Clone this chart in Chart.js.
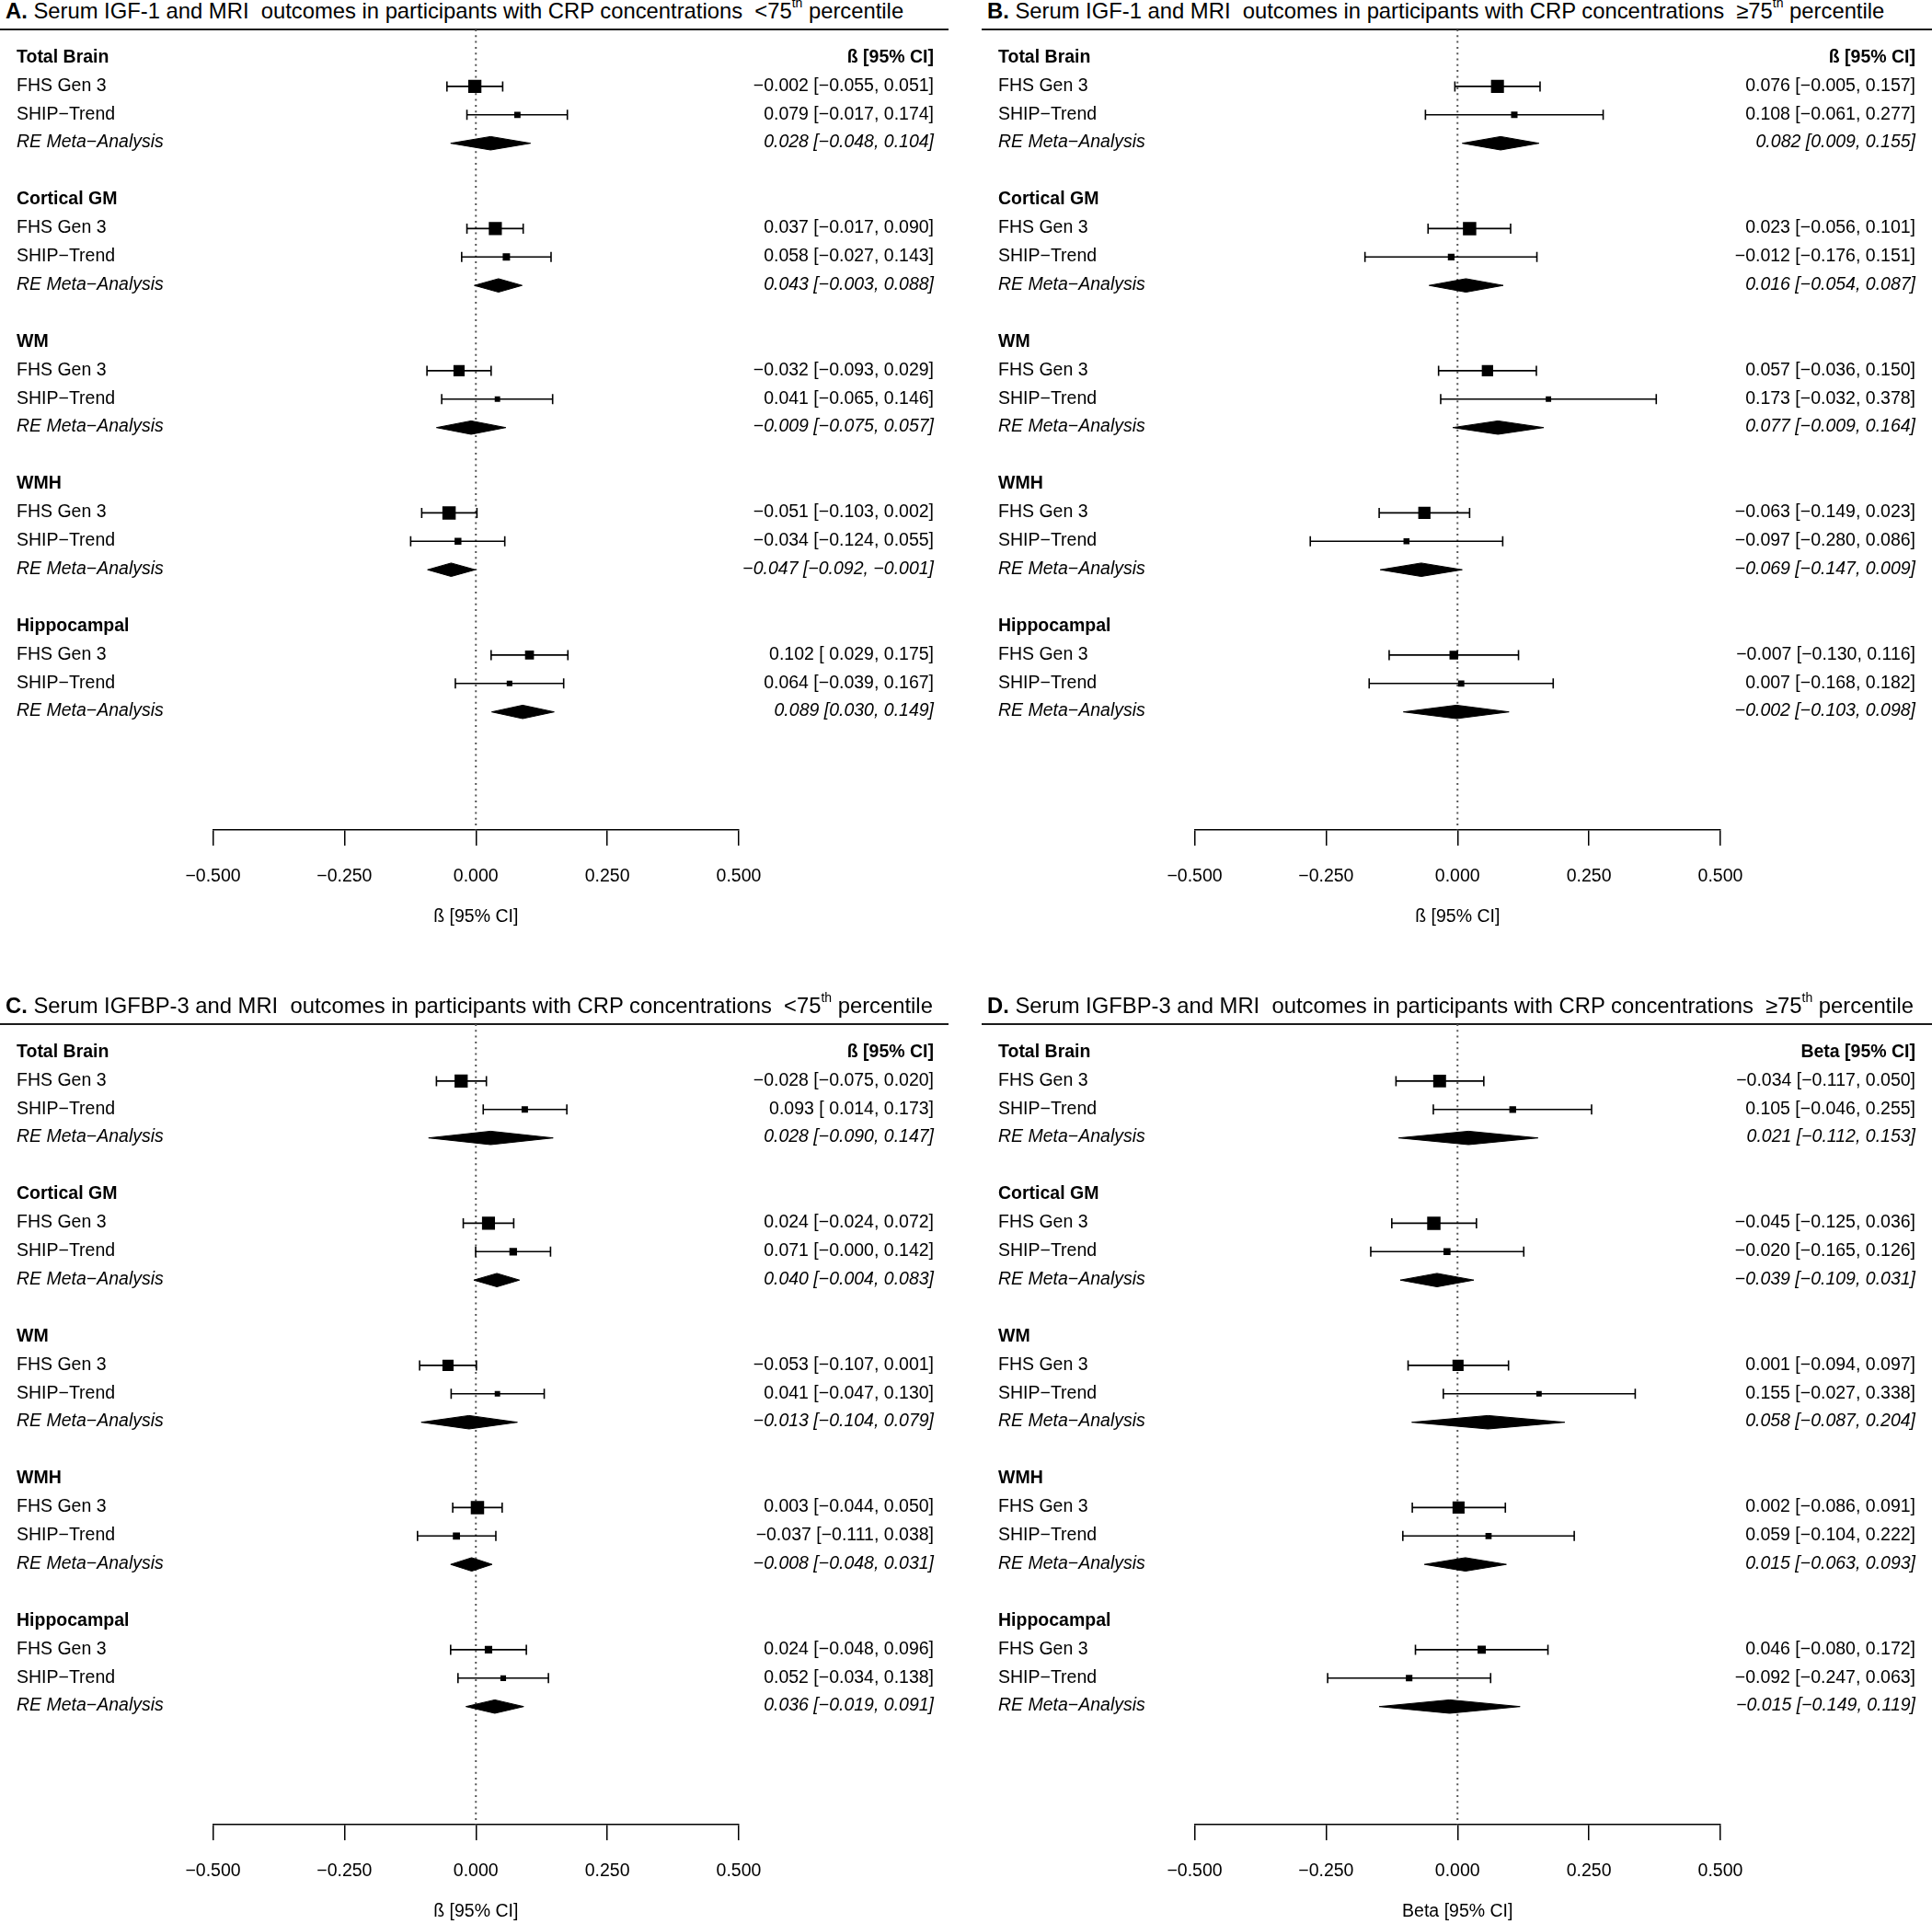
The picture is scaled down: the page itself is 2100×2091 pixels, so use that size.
<!DOCTYPE html>
<html><head><meta charset="utf-8">
<script src="https://cdn.jsdelivr.net/npm/chart.js@4.4.1/dist/chart.umd.min.js"></script>
<style>
html,body{margin:0;padding:0;background:#fff;}
body{width:2100px;height:2091px;position:relative;overflow:hidden;font-family:"Liberation Sans",Arial,sans-serif;}
.title{position:absolute;font-size:23.8px;line-height:26px;white-space:pre;color:#000;}
.title sup{font-size:14px;line-height:0;position:relative;top:-3px;}
.rule{position:absolute;height:2px;background:#1a1a1a;}
canvas{position:absolute;}
</style></head><body>
<script>
// ---------------- data ----------------
const outcomes = ['Total Brain', 'Cortical GM', 'WM', 'WMH', 'Hippocampal'];
const studyNames = ['FHS Gen 3', 'SHIP\u2212Trend'];
const poolLabel = 'RE Meta\u2212Analysis';
const tickValues = [-0.5, -0.25, 0, 0.25, 0.5];
const panelLetters = ['A.', 'B.', 'C.', 'D.'];
const panelMarkers = ['IGF-1', 'IGF-1', 'IGFBP-3', 'IGFBP-3'];
const crpGroups = ['<75', '\u226575', '<75', '\u226575'];
const columnHeaders = ['\u00df [95% CI]', '\u00df [95% CI]', '\u00df [95% CI]', 'Beta [95% CI]'];
const axisTitles = ['\u00df [95% CI]', '\u00df [95% CI]', '\u00df [95% CI]', 'Beta [95% CI]'];

// [estimate, lower, upper] per outcome (Total Brain, Cortical GM, WM, WMH, Hippocampal)
const A_FHS  = [[-0.002,-0.055,0.051],[0.037,-0.017,0.090],[-0.032,-0.093,0.029],[-0.051,-0.103,0.002],[0.102,0.029,0.175]];
const A_SHIP = [[0.079,-0.017,0.174],[0.058,-0.027,0.143],[0.041,-0.065,0.146],[-0.034,-0.124,0.055],[0.064,-0.039,0.167]];
const A_RE   = [[0.028,-0.048,0.104],[0.043,-0.003,0.088],[-0.009,-0.075,0.057],[-0.047,-0.092,-0.001],[0.089,0.030,0.149]];

const B_FHS  = [[0.076,-0.005,0.157],[0.023,-0.056,0.101],[0.057,-0.036,0.150],[-0.063,-0.149,0.023],[-0.007,-0.130,0.116]];
const B_SHIP = [[0.108,-0.061,0.277],[-0.012,-0.176,0.151],[0.173,-0.032,0.378],[-0.097,-0.280,0.086],[0.007,-0.168,0.182]];
const B_RE   = [[0.082,0.009,0.155],[0.016,-0.054,0.087],[0.077,-0.009,0.164],[-0.069,-0.147,0.009],[-0.002,-0.103,0.098]];

const C_FHS  = [[-0.028,-0.075,0.020],[0.024,-0.024,0.072],[-0.053,-0.107,0.001],[0.003,-0.044,0.050],[0.024,-0.048,0.096]];
const C_SHIP = [[0.093,0.014,0.173],[0.071,-0.0004,0.142],[0.041,-0.047,0.130],[-0.037,-0.111,0.038],[0.052,-0.034,0.138]];
const C_RE   = [[0.028,-0.090,0.147],[0.040,-0.004,0.083],[-0.013,-0.104,0.079],[-0.008,-0.048,0.031],[0.036,-0.019,0.091]];

const D_FHS  = [[-0.034,-0.117,0.050],[-0.045,-0.125,0.036],[0.001,-0.094,0.097],[0.002,-0.086,0.091],[0.046,-0.080,0.172]];
const D_SHIP = [[0.105,-0.046,0.255],[-0.020,-0.165,0.126],[0.155,-0.027,0.338],[0.059,-0.104,0.222],[-0.092,-0.247,0.063]];
const D_RE   = [[0.021,-0.112,0.153],[-0.039,-0.109,0.031],[0.058,-0.087,0.204],[0.015,-0.063,0.093],[-0.015,-0.149,0.119]];

const panelData = [[A_FHS, A_SHIP, A_RE], [B_FHS, B_SHIP, B_RE], [C_FHS, C_SHIP, C_RE], [D_FHS, D_SHIP, D_RE]];

// ---------------- layout ----------------
const PANEL_LEFT = [0, 1067, 0, 1067];
const PANEL_TOP = [0, 0, 1081, 1081];
const CANVAS_W = 1033, CANVAS_H = 1081;
const AREA_TOP = 32, AREA_BOTTOM = 902, AREA_LEFT = 231.5, AREA_RIGHT = 803;
const ROW0_PX = 63, ROW_PX = 30.9, ROWS_PER_GROUP = 5;
const Y_MIN = -(ROW0_PX - AREA_TOP) / ROW_PX;
const Y_MAX = Y_MIN + (AREA_BOTTOM - AREA_TOP) / ROW_PX;
const DIAMOND_HALF = 7.3 / ROW_PX;
const FONT = '"Liberation Sans", Arial, sans-serif';
const FS = 19.5;
const LABEL_X = 18, VALUE_X = 1015, TEXT_DY = 4.7;

const fmt = v => v.toFixed(3).replace('-', '\u2212');

Chart.defaults.font.family = FONT;

const textPlugin = {
  id: 'forestText',
  afterDatasetsDraw(chart) {
    const i = chart.options.plugins.forestText.panel;
    const [fhs, ship, re] = panelData[i];
    const studies = [fhs, ship];
    const ys = chart.scales.y;
    const ctx = chart.ctx;
    ctx.save();
    ctx.fillStyle = '#000';
    ctx.textBaseline = 'alphabetic';
    outcomes.forEach((name, g) => {
      const base = g * ROWS_PER_GROUP;
      const yH = ys.getPixelForValue(base) + TEXT_DY;
      ctx.font = 'bold ' + FS + 'px ' + FONT;
      ctx.textAlign = 'left';
      ctx.fillText(name, LABEL_X, yH);
      if (g === 0) {
        ctx.textAlign = 'right';
        ctx.fillText(columnHeaders[i], VALUE_X, yH);
      }
      ctx.font = FS + 'px ' + FONT;
      studies.forEach((s, k) => {
        const r = s[g];
        const y = ys.getPixelForValue(base + 1 + k) + TEXT_DY;
        ctx.textAlign = 'left';
        ctx.fillText(studyNames[k], LABEL_X, y);
        ctx.textAlign = 'right';
        ctx.fillText(fmt(r[0]) + ' [' + (r[1] >= 0 ? ' ' : '') + fmt(r[1]) + ', ' + fmt(r[2]) + ']', VALUE_X, y);
      });
      const rr = re[g];
      const y = ys.getPixelForValue(base + 3) + TEXT_DY;
      ctx.font = 'italic ' + FS + 'px ' + FONT;
      ctx.textAlign = 'left';
      ctx.fillText(poolLabel, LABEL_X, y);
      ctx.textAlign = 'right';
      ctx.fillText(fmt(rr[0]) + ' [' + fmt(rr[1]) + ', ' + fmt(rr[2]) + ']', VALUE_X, y);
    });
    ctx.restore();
  }
};

function buildPanel(i) {
  const [fhs, ship, re] = panelData[i];
  const studies = [fhs, ship];

  // title + rule
  const t = document.createElement('div');
  t.className = 'title';
  t.style.left = (PANEL_LEFT[i] + 6) + 'px';
  t.style.top = (PANEL_TOP[i] - 1) + 'px';
  const b = document.createElement('b'); b.textContent = panelLetters[i];
  t.appendChild(b);
  t.appendChild(document.createTextNode(' Serum ' + panelMarkers[i] + ' and MRI\u00a0 outcomes in participants with CRP concentrations\u00a0 ' + crpGroups[i]));
  const sup = document.createElement('sup'); sup.textContent = 'th';
  t.appendChild(sup);
  t.appendChild(document.createTextNode(' percentile'));
  document.body.appendChild(t);
  const rule = document.createElement('div');
  rule.className = 'rule';
  rule.style.left = PANEL_LEFT[i] + 'px';
  rule.style.top = (PANEL_TOP[i] + 31) + 'px';
  rule.style.width = (i % 2 === 0 ? 1031 : 1033) + 'px';
  document.body.appendChild(rule);

  const cv = document.createElement('canvas');
  cv.width = CANVAS_W; cv.height = CANVAS_H;
  cv.style.left = PANEL_LEFT[i] + 'px';
  cv.style.top = PANEL_TOP[i] + 'px';
  cv.style.width = CANVAS_W + 'px'; cv.style.height = CANVAS_H + 'px';
  document.body.appendChild(cv);

  // weights as in metafor default (1/SE), scaled 0.5..1.5
  const wAll = [];
  studies.forEach(s => s.forEach(r => wAll.push(1 / (r[2] - r[1]))));
  const wmin = Math.min(...wAll), wmax = Math.max(...wAll);
  const psize = r => 0.5 + (1 / (r[2] - r[1]) - wmin) / (wmax - wmin);

  const ciData = [], ptData = [], ptRadius = [];
  outcomes.forEach((o, g) => {
    studies.forEach((s, k) => {
      const row = g * ROWS_PER_GROUP + 1 + k;
      const r = s[g];
      ciData.push({x: r[1], y: row}, {x: r[2], y: row}, {x: null, y: null});
      ptData.push({x: r[0], y: row});
      ptRadius.push((8.6 * psize(r) + 1.6) * Math.SQRT1_2);
    });
  });

  const datasets = [];
  datasets.push({
    type: 'scatter', data: ptData, pointStyle: 'rect', pointRadius: ptRadius,
    backgroundColor: '#000', borderColor: '#000', borderWidth: 0, pointHoverRadius: ptRadius
  });
  datasets.push({
    type: 'line', data: ciData, spanGaps: false, borderColor: '#000', borderWidth: 1.6,
    pointStyle: 'line', pointRotation: 90, pointRadius: 5.5, pointBorderWidth: 1.6,
    pointBorderColor: '#000', pointBackgroundColor: '#000', fill: false, tension: 0
  });
  re.forEach((r, g) => {
    const row = g * ROWS_PER_GROUP + 3;
    datasets.push({
      type: 'line',
      data: [{x: r[1], y: row}, {x: r[0], y: row - DIAMOND_HALF}, {x: r[2], y: row}, {x: r[0], y: row + DIAMOND_HALF}, {x: r[1], y: row}],
      fill: 'shape', backgroundColor: '#000', borderColor: '#000', borderWidth: 1, pointRadius: 0, tension: 0
    });
  });
  datasets.push({
    type: 'line', data: [{x: 0, y: Y_MIN}, {x: 0, y: Y_MAX}], borderColor: '#555',
    borderWidth: 2, borderDash: [2, 4.3], pointRadius: 0, fill: false
  });

  new Chart(cv, {
    type: 'scatter',
    data: {datasets},
    options: {
      responsive: false, animation: false, devicePixelRatio: 1,
      layout: {padding: {top: AREA_TOP, left: AREA_LEFT, right: CANVAS_W - AREA_RIGHT, bottom: 0}},
      plugins: {legend: {display: false}, tooltip: {enabled: false}, forestText: {panel: i}},
      events: [],
      scales: {
        x: {
          type: 'linear', min: -0.5, max: 0.5, position: 'bottom',
          afterBuildTicks: s => { s.ticks = tickValues.map(v => ({value: v})); },
          afterFit: s => { s.height = CANVAS_H - AREA_BOTTOM; },
          ticks: {callback: v => fmt(v), font: {family: FONT, size: FS}, color: '#000', padding: 22, maxRotation: 0, autoSkip: false},
          grid: {drawOnChartArea: false, drawTicks: true, tickLength: 17, color: '#000', lineWidth: 1.5},
          border: {display: true, color: '#000', width: 1.5},
          title: {display: true, text: axisTitles[i], font: {family: FONT, size: FS}, color: '#000', padding: {top: 0, bottom: 73}}
        },
        y: {type: 'linear', reverse: true, min: Y_MIN, max: Y_MAX, display: false}
      }
    },
    plugins: [textPlugin]
  });
}

[0, 1, 2, 3].forEach(buildPanel);
</script>
</body></html>
